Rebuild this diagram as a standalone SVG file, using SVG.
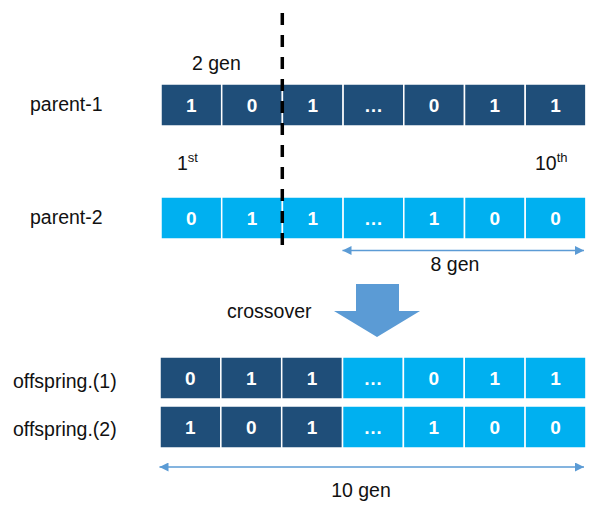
<svg xmlns="http://www.w3.org/2000/svg" width="600" height="510" viewBox="0 0 600 510">
  <defs>
    <marker id="ah" viewBox="0 0 10 10" refX="10" refY="5" markerWidth="10" markerHeight="9" markerUnits="userSpaceOnUse" orient="auto-start-reverse">
      <path d="M0,0 L10,5 L0,10 Z" fill="#5B9BD5"/>
    </marker>
    <style>
      .lbl { font-family: "Liberation Sans", Arial, sans-serif; font-size: 19.5px; fill: #111; }
      .sup { font-family: "Liberation Sans", Arial, sans-serif; font-size: 13px; fill: #111; }
      .dk { fill: #1F4E79; stroke: #fff; stroke-width: 1.5; }
      .lt { fill: #00B0F0; stroke: #fff; stroke-width: 1.5; }
      .num { font-family: "Liberation Sans", Arial, sans-serif; font-size: 19px; font-weight: bold; fill: #fff; text-anchor: middle; }
      .conn { stroke: #5B9BD5; stroke-width: 1.6; fill: none; }
    </style>
  </defs>
  <rect width="600" height="510" fill="#fff"/>

  <!-- labels -->
  <g id="labels">
    <text class="lbl" x="30" y="111">parent-1</text>
    <text class="lbl" x="30" y="224">parent-2</text>
    <text class="lbl" x="13" y="388">offspring.(1)</text>
    <text class="lbl" x="13" y="436">offspring.(2)</text>
    <text class="lbl" x="192" y="70">2 gen</text>
    <text class="lbl" x="177" y="170">1<tspan class="sup" dy="-8">st</tspan></text>
    <text class="lbl" x="535" y="170">10<tspan class="sup" dy="-8">th</tspan></text>
    <text class="lbl" x="227" y="318">crossover</text>
    <text class="lbl" x="455" y="271" text-anchor="middle">8 gen</text>
    <text class="lbl" x="361" y="497" text-anchor="middle">10 gen</text>
  </g>

  <!-- parent-1 -->
  <g id="parent1">
    <g id="p1c1"><rect class="dk" x="161" y="84" width="60.7" height="42"/><text class="num" x="191.35" y="112">1</text></g>
    <g id="p1c2"><rect class="dk" x="221.7" y="84" width="60.7" height="42"/><text class="num" x="252.05" y="112">0</text></g>
    <g id="p1c3"><rect class="dk" x="282.4" y="84" width="60.7" height="42"/><text class="num" x="312.75" y="112">1</text></g>
    <g id="p1c4"><rect class="dk" x="343.1" y="84" width="60.7" height="42"/><text class="num" x="373.45" y="112">…</text></g>
    <g id="p1c5"><rect class="dk" x="403.8" y="84" width="60.7" height="42"/><text class="num" x="434.15" y="112">0</text></g>
    <g id="p1c6"><rect class="dk" x="464.5" y="84" width="60.7" height="42"/><text class="num" x="494.85" y="112">1</text></g>
    <g id="p1c7"><rect class="dk" x="525.2" y="84" width="60.7" height="42"/><text class="num" x="555.55" y="112">1</text></g>
  </g>

  <!-- parent-2 -->
  <g id="parent2">
    <g id="p2c1"><rect class="lt" x="161" y="197" width="60.7" height="42"/><text class="num" x="191.35" y="225">0</text></g>
    <g id="p2c2"><rect class="lt" x="221.7" y="197" width="60.7" height="42"/><text class="num" x="252.05" y="225">1</text></g>
    <g id="p2c3"><rect class="lt" x="282.4" y="197" width="60.7" height="42"/><text class="num" x="312.75" y="225">1</text></g>
    <g id="p2c4"><rect class="lt" x="343.1" y="197" width="60.7" height="42"/><text class="num" x="373.45" y="225">…</text></g>
    <g id="p2c5"><rect class="lt" x="403.8" y="197" width="60.7" height="42"/><text class="num" x="434.15" y="225">1</text></g>
    <g id="p2c6"><rect class="lt" x="464.5" y="197" width="60.7" height="42"/><text class="num" x="494.85" y="225">0</text></g>
    <g id="p2c7"><rect class="lt" x="525.2" y="197" width="60.7" height="42"/><text class="num" x="555.55" y="225">0</text></g>
  </g>

  <!-- offspring 1 -->
  <g id="offspring1">
    <g id="o1c1"><rect class="dk" x="160" y="357" width="60.85" height="42"/><text class="num" x="190.4" y="385">0</text></g>
    <g id="o1c2"><rect class="dk" x="220.85" y="357" width="60.85" height="42"/><text class="num" x="251.3" y="385">1</text></g>
    <g id="o1c3"><rect class="dk" x="281.7" y="357" width="60.85" height="42"/><text class="num" x="312.1" y="385">1</text></g>
    <g id="o1c4"><rect class="lt" x="342.55" y="357" width="60.85" height="42"/><text class="num" x="373" y="385">…</text></g>
    <g id="o1c5"><rect class="lt" x="403.4" y="357" width="60.85" height="42"/><text class="num" x="433.8" y="385">0</text></g>
    <g id="o1c6"><rect class="lt" x="464.25" y="357" width="60.85" height="42"/><text class="num" x="494.7" y="385">1</text></g>
    <g id="o1c7"><rect class="lt" x="525.1" y="357" width="60.85" height="42"/><text class="num" x="555.5" y="385">1</text></g>
  </g>

  <!-- offspring 2 -->
  <g id="offspring2">
    <g id="o2c1"><rect class="dk" x="160" y="406" width="60.85" height="42"/><text class="num" x="190.4" y="434">1</text></g>
    <g id="o2c2"><rect class="dk" x="220.85" y="406" width="60.85" height="42"/><text class="num" x="251.3" y="434">0</text></g>
    <g id="o2c3"><rect class="dk" x="281.7" y="406" width="60.85" height="42"/><text class="num" x="312.1" y="434">1</text></g>
    <g id="o2c4"><rect class="lt" x="342.55" y="406" width="60.85" height="42"/><text class="num" x="373" y="434">…</text></g>
    <g id="o2c5"><rect class="lt" x="403.4" y="406" width="60.85" height="42"/><text class="num" x="433.8" y="434">1</text></g>
    <g id="o2c6"><rect class="lt" x="464.25" y="406" width="60.85" height="42"/><text class="num" x="494.7" y="434">0</text></g>
    <g id="o2c7"><rect class="lt" x="525.1" y="406" width="60.85" height="42"/><text class="num" x="555.5" y="434">0</text></g>
  </g>

  <!-- connectors -->
  <g id="connectors">
    <line x1="282.3" y1="13" x2="282.3" y2="250" stroke="#000" stroke-width="3.5" stroke-dasharray="12 10"/>
    <line class="conn" x1="342.5" y1="250.5" x2="584" y2="250.5" marker-start="url(#ah)" marker-end="url(#ah)"/>
    <line class="conn" x1="159.5" y1="467" x2="584" y2="467" marker-start="url(#ah)" marker-end="url(#ah)"/>
    <polygon points="356,284 399,284 399,311 420,311 377,337 334,311 356,311" fill="#5B9BD5"/>
  </g>
</svg>
